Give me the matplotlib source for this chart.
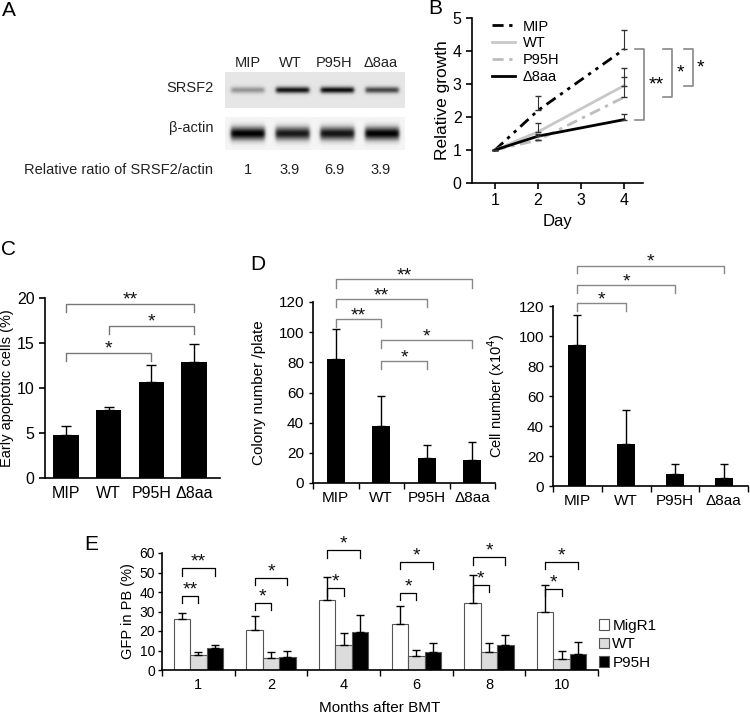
import numpy as np
import matplotlib
matplotlib.use('Agg')
import matplotlib.pyplot as plt
from matplotlib.patches import Patch

plt.rcParams['font.family'] = ['Liberation Sans', 'DejaVu Sans']
plt.rcParams['axes.linewidth'] = 1.2

W, H = 750, 715

# ---- data ----
lanes = ['MIP', 'WT', 'P95H', 'Δ8aa']
srsf2_band = [0.35, 0.92, 0.95, 0.7]
actin_band = [1.0, 0.9, 0.92, 1.0]
ratio = ['1', '3.9', '6.9', '3.9']

days = [1, 2, 4]
growth = {
    'MIP': [1, 2.2, 4.05],
    'WT': [1, 1.55, 2.95],
    'P95H': [1, 1.3, 2.6],
    'Δ8aa': [1, 1.42, 1.92],
}
growth_err = {
    'MIP': [0, 0.45, 0.6],
    'WT': [0, 0.27, 0.55],
    'P95H': [0, 0, 0.6],
    'Δ8aa': [0, 0.08, 0.18],
}

apopt = [4.8, 7.6, 10.7, 12.9]
apopt_err = [1.0, 0.3, 1.9, 2.0]

colony = [82, 38, 16.5, 15]
colony_err = [20, 20, 8.5, 12]

cells = [94, 28, 8, 5.5]
cells_err = [20, 23, 6.5, 9.5]

months = ['1', '2', '4', '6', '8', '10']
gfp_migr1 = [26, 20.5, 36, 23.4, 34.5, 29.9]
gfp_migr1_err = [3, 7, 11.5, 9.4, 14.2, 13.7]
gfp_wt = [7.7, 6, 12.6, 7.3, 9.1, 5.8]
gfp_wt_err = [1.3, 3, 6.2, 2.9, 4.9, 4.1]
gfp_p95h = [11.3, 6.8, 19.5, 9.4, 12.8, 8.2]
gfp_p95h_err = [1.7, 3, 8.5, 4.6, 5.2, 6.0]

STAR = 14


def px_axes(l, t, r, b):
    return fig.add_axes([l / W, 1 - b / H, (r - l) / W, (b - t) / H])


def ftext(x, y, s, **kw):
    fig.text(x / W, 1 - y / H, s, **kw)


def bracket(ax, x1, x2, y, h, label, color, fs=STAR, lw=1.0, dy=0):
    ax.plot([x1, x1, x2, x2], [y - h, y, y, y - h], color=color, lw=lw,
            clip_on=False)
    ax.text((x1 + x2) / 2, y + dy, label, ha='center', va='bottom',
            fontsize=fs, color='#111')


fig = plt.figure(figsize=(W / 100, H / 100), dpi=100)

# ---- panel letters ----
for letter, x, y in [('A', 9, 10), ('B', 435, 8), ('C', 9, 250),
                     ('D', 258, 264), ('E', 91, 544)]:
    ftext(x, y, letter, fontsize=15, ha='center', va='center')

# ---- A: western blot ----
def blot_image(levels, thick, ny=40, nx=180, bg=0.9, half=0.38):
    y = np.linspace(0, 1, ny)[:, None]
    x = np.linspace(-0.5, 3.5, nx)[None, :]
    img = np.full((ny, nx), bg)
    for i, lv in enumerate(levels):
        hx = 1 / (1 + np.exp(-(x - (i - half)) * 45)) * \
            1 / (1 + np.exp((x - (i + half)) * 45))
        vy = np.exp(-((y - 0.5) / thick) ** 2)
        img = img - bg * lv * hx * vy
    return np.clip(img, 0, 1)

ax = px_axes(225, 72, 405, 108)
ax.imshow(blot_image(srsf2_band, 0.09, bg=0.9, half=0.37), cmap='gray',
          vmin=0, vmax=1, extent=(-0.5, 3.5, 0, 1), aspect='auto',
          interpolation='bilinear')
ax.axis('off')
ax = px_axes(225, 117, 405, 150)
ax.imshow(blot_image(actin_band, 0.2, bg=0.96, half=0.38), cmap='gray',
          vmin=0, vmax=1, extent=(-0.5, 3.5, 0, 1), aspect='auto',
          interpolation='bilinear')
ax.axis('off')

lane_x = [248, 290, 334, 381]
for name, r, x in zip(lanes, ratio, lane_x):
    ftext(x, 63, name, fontsize=10.5, ha='center', va='center', color='#222')
    ftext(x, 170, r, fontsize=10.5, ha='center', va='center', color='#222')
ftext(214, 88, 'SRSF2', fontsize=10.5, ha='right', va='center', color='#222')
ftext(214, 128, 'β-actin', fontsize=10.5, ha='right', va='center',
      color='#222')
ftext(213, 170, 'Relative ratio of SRSF2/actin', fontsize=10.5, ha='right',
      va='center', color='#222')

# ---- B: growth curves ----
ax = px_axes(472, 18, 643, 183)
styles = {
    'MIP': dict(color='black', ls=(0, (4, 2, 1.2, 2, 1.2, 2))),
    'WT': dict(color='#c8c8c8', ls='-'),
    'P95H': dict(color='#bdbdbd', ls=(0, (4, 2, 1.2, 2))),
    'Δ8aa': dict(color='black', ls='-'),
}
for name in lanes:
    ax.plot(days, growth[name], lw=2, label=name, **styles[name])
    ax.errorbar(days, growth[name],
                yerr=[np.zeros(3), growth_err[name]], fmt='none',
                ecolor='#333', elinewidth=0.8, capsize=2.5)
ax.set_xlim(0.465, 4.44)
ax.set_ylim(0, 5)
ax.set_xticks([1, 2, 3, 4])
ax.set_yticks(range(6))
ax.tick_params(labelsize=11.5, length=4, width=1.2)
for s in ['top', 'right']:
    ax.spines[s].set_visible(False)
ax.set_xlabel('Day', fontsize=12, labelpad=4)
ax.set_ylabel('Relative growth', fontsize=12.5, labelpad=2)
ax.legend(loc='upper left', bbox_to_anchor=(0.04, 1.07), frameon=False,
          fontsize=10.5, handlelength=1.6, labelspacing=0.2,
          handletextpad=0.5)
top = growth['MIP'][-1]
for name, xb, xs, lab in [('Δ8aa', 4.465, 4.76, '**'),
                          ('P95H', 5.116, 5.3, '*'),
                          ('WT', 5.60, 5.77, '*')]:
    bot = growth[name][-1]
    ax.plot([xb - 0.21, xb, xb, xb - 0.21], [top, top, bot, bot],
            color='#888', lw=1.2, clip_on=False)
    ax.text(xs, (top + bot) / 2, lab, fontsize=STAR, ha='center',
            va='center')

# ---- C: apoptosis ----
ax = px_axes(45, 298, 220, 478)
xc = np.arange(4)
ax.bar(xc, apopt, width=0.59, color='black')
ax.errorbar(xc, apopt, yerr=[np.zeros(4), apopt_err], fmt='none',
            ecolor='black', elinewidth=1, capsize=3.5)
ax.set_xlim(-0.49, 3.61)
ax.set_ylim(0, 20)
ax.set_yticks([0, 5, 10, 15, 20])
ax.set_xticks(xc)
ax.set_xticklabels(lanes)
ax.tick_params(axis='x', length=0, labelsize=11.5, pad=6)
ax.tick_params(axis='y', labelsize=11.5, length=4, width=1.2)
for s in ['top', 'right']:
    ax.spines[s].set_visible(False)
ax.set_ylabel('Early apoptotic cells (%)', fontsize=10.5, labelpad=2)
for x1, x2, y, lab in [(0, 3, 19.3, '**'), (1, 3, 16.9, '*'),
                       (0, 2, 13.9, '*')]:
    bracket(ax, x1, x2, y, 0.85, lab, '#777', dy=-0.5)


def cat_axis(ax, n, labels, fs):
    ax.set_xlim(-0.5, n - 0.5)
    ax.set_xticks(np.arange(n + 1) - 0.5)
    ax.set_xticklabels([])
    ax.set_xticks(np.arange(n), minor=True)
    ax.set_xticklabels(labels, minor=True)
    ax.tick_params(axis='x', which='major', length=4, direction='out',
                   width=1)
    ax.tick_params(axis='x', which='minor', length=0, labelsize=fs, pad=6)
    ax.tick_params(axis='y', length=3, width=1)
    for s in ['top', 'right']:
        ax.spines[s].set_visible(False)


# ---- D left: colonies ----
ax = px_axes(313, 302, 495, 483)
ax.bar(xc, colony, width=0.4, color='black')
ax.errorbar(xc, colony, yerr=[np.zeros(4), colony_err], fmt='none',
            ecolor='black', elinewidth=1, capsize=3)
cat_axis(ax, 4, lanes, 11)
ax.set_ylim(0, 120)
ax.set_yticks(range(0, 121, 20))
ax.tick_params(axis='y', labelsize=11)
ax.set_ylabel('Colony number /plate', fontsize=11, labelpad=9)
for x1, x2, y, lab in [(0, 3, 135, '**'), (0, 2, 122, '**'),
                       (0, 1, 108.6, '**'), (1, 3, 94.7, '*'),
                       (1, 2, 81, '*')]:
    bracket(ax, x1, x2, y, 5.5, lab, '#888', dy=-3.5)

# ---- D right: cell number ----
ax = px_axes(553, 306, 748, 486)
ax.bar(xc, cells, width=0.37, color='black')
ax.errorbar(xc, cells, yerr=[np.zeros(4), cells_err], fmt='none',
            ecolor='black', elinewidth=1, capsize=3)
cat_axis(ax, 4, lanes, 11)
ax.set_ylim(0, 120)
ax.set_yticks(range(0, 121, 20))
ax.tick_params(axis='y', labelsize=11)
ax.set_ylabel('Cell number (x10$^4$)', fontsize=10.5, labelpad=8)
for x1, x2, y, lab in [(0, 3, 147, '*'), (0, 2, 134, '*'),
                       (0, 1, 122, '*')]:
    bracket(ax, x1, x2, y, 5, lab, '#888', dy=-3.5)

# ---- E: GFP in PB ----
ax = px_axes(162, 553, 598, 670)
xg = np.arange(len(months))
bw = 0.227
series = [(gfp_migr1, gfp_migr1_err, 'white', 'MigR1'),
          (gfp_wt, gfp_wt_err, '#dcdcdc', 'WT'),
          (gfp_p95h, gfp_p95h_err, 'black', 'P95H')]
for k, (vals, err, col, lab) in enumerate(series):
    xs = xg + (k - 1) * bw
    ax.bar(xs, vals, width=bw, color=col, edgecolor='#555', linewidth=0.8,
           label=lab)
    ax.errorbar(xs, vals, yerr=[np.zeros(len(vals)), err], fmt='none',
                ecolor='black', elinewidth=1, capsize=3)
cat_axis(ax, len(months), months, 10.5)
ax.set_ylim(0, 60)
ax.set_yticks(range(0, 61, 10))
ax.tick_params(axis='y', labelsize=10, pad=2)
ax.set_ylabel('GFP in PB (%)', fontsize=10.5, labelpad=3)
ax.set_xlabel('Months after BMT', fontsize=11, labelpad=6)
near = [38, 34.5, 41.9, 39.5, 43.6, 41.5]
far = [52.3, 47.3, 61.5, 55.5, 57.8, 55.5]
stars_near = ['**', '*', '*', '*', '*', '*']
stars_far = ['**', '*', '*', '*', '*', '*']
for g in xg:
    bracket(ax, g - bw, g, near[g], 3.7, stars_near[g], 'black', lw=0.9,
            dy=-1.2)
    bracket(ax, g - bw, g + bw, far[g], 3.9, stars_far[g], 'black', lw=0.9,
            dy=-1.2)
handles = [Patch(facecolor=c, edgecolor='#555', lw=0.8, label=l)
           for _, _, c, l in series]
ax.legend(handles=handles, loc='center left', bbox_to_anchor=(0.97, 0.22),
          frameon=False, fontsize=11, handlelength=0.7, handleheight=0.7,
          handletextpad=0.2, labelspacing=0.3)

fig.savefig('out.png', dpi=100)
